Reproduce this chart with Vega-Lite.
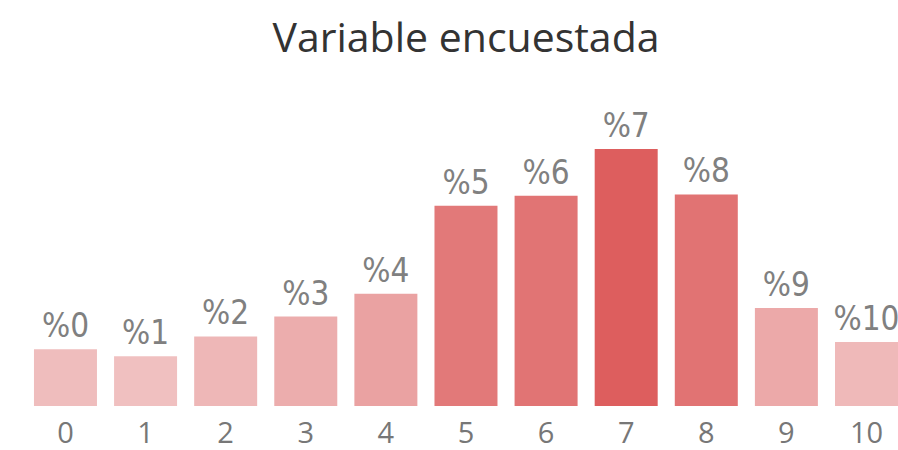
{
  "$schema": "https://vega.github.io/schema/vega-lite/v6.json",
  "width": 898,
  "height": 306,
  "autosize": {"type": "none"},
  "padding": {"top": 100, "left": 0, "right": 0, "bottom": 44},
  "background": "white",
  "title": {
    "text": "Variable encuestada",
    "font": "Open Sans",
    "fontSize": 41,
    "fontWeight": "normal",
    "color": "#333333",
    "anchor": "middle",
    "baseline": "alphabetic",
    "offset": 7,
    "dx": 17
  },
  "config": {"view": {"stroke": null}},
  "data": {
    "values": [
      {"cat": "0", "label": "%0", "value": 4.0},
      {"cat": "1", "label": "%1", "value": 3.5},
      {"cat": "2", "label": "%2", "value": 4.9},
      {"cat": "3", "label": "%3", "value": 6.3},
      {"cat": "4", "label": "%4", "value": 7.9},
      {"cat": "5", "label": "%5", "value": 14.1},
      {"cat": "6", "label": "%6", "value": 14.8},
      {"cat": "7", "label": "%7", "value": 18.1},
      {"cat": "8", "label": "%8", "value": 14.9},
      {"cat": "9", "label": "%9", "value": 6.9},
      {"cat": "10", "label": "%10", "value": 4.5}
    ]
  },
  "encoding": {
    "x": {
      "field": "cat",
      "type": "ordinal",
      "sort": null,
      "scale": {"paddingInner": 0.2135, "paddingOuter": 0.212, "align": 1},
      "axis": {
        "title": null,
        "labelAngle": 0,
        "domain": false,
        "ticks": false,
        "grid": false,
        "labelFont": "Open Sans",
        "labelFontSize": 29,
        "labelColor": "#777777",
        "labelPadding": 13
      }
    },
    "y": {
      "field": "value",
      "type": "quantitative",
      "scale": {"domain": [0, 21.55]},
      "axis": null
    }
  },
  "layer": [
    {
      "mark": {"type": "bar"},
      "encoding": {
        "color": {
          "field": "value",
          "type": "quantitative",
          "scale": {"range": ["#f0c0c0", "#dd5e5e"], "zero": false, "interpolate": "rgb"},
          "legend": null
        }
      }
    },
    {
      "mark": {"type": "text", "baseline": "alphabetic", "dy": -12, "font": "'Liberation Sans Narrow', 'DejaVu Sans Condensed', Roboto", "fontSize": 33, "color": "#808080"},
      "encoding": {"text": {"field": "label"}}
    }
  ]
}
